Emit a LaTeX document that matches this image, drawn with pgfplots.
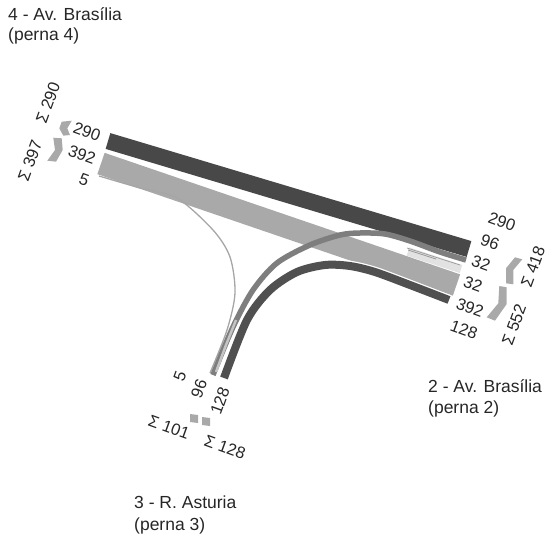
\documentclass[border=0pt]{standalone}
\usepackage{pgfplots}
\pgfplotsset{compat=1.18}
\usepackage{fontspec}
\setmainfont{Liberation Sans}
\definecolor{bdark}{HTML}{484848}
\definecolor{bmid}{HTML}{A9A9A9}
\definecolor{bgray}{HTML}{7E7E7E}
\definecolor{bdk}{HTML}{505050}
\definecolor{bpale}{HTML}{E2E2E2}
\definecolor{txt}{HTML}{262626}
\tikzset{
    lab/.style={font=\fontsize{16.5}{18}\selectfont, text=txt, inner sep=0pt},
    head/.style={font=\fontsize{17.5}{20}\selectfont, text=txt, inner sep=0pt, anchor=base west},
    band/.style={no markers, line cap=butt, line join=round},
    glyph/.style={draw=none, fill=#1, no markers},
}
\begin{document}
\begin{tikzpicture}
\useasboundingbox (0,0) rectangle (550pt,538pt);
\begin{axis}[
    at={(0,0)}, anchor=south west,
    scale only axis, width=550pt, height=538pt,
    xmin=0, xmax=550, ymin=0, ymax=538, y dir=reverse,
    hide axis, clip=false,
]

% leg 4 to leg 2
\addplot[band, bmid, line width=22.5pt] coordinates {(101,163.5) (456.5,285)};
\addplot[band, bdark, line width=16.5pt] coordinates {(108,141) (469,249)};

% right turn 4 to 3 (5)
\addplot[band, gray!70, line width=1.3pt, smooth] coordinates {(99,176) (140,188) (177,198) (213,230) (230,257) (235,293) (227,330) (210,373)};

% leg 2 to 3
\addplot[band, bgray, line width=5.5pt, smooth] coordinates {(466,260) (440,252) (410,241) (385,234) (360,233) (340,235) (310,245) (277,263) (253,290) (233,327) (213,375)};
\addplot[band, white, line width=10.5pt, smooth] coordinates {(449,300) (410,285) (375,272) (350,266) (325,265) (297,272) (270,290) (247,320) (224,378)};
\addplot[band, bdk, line width=8pt, smooth] coordinates {(449,300) (410,285) (375,272) (350,266) (325,265) (297,272) (270,290) (247,320) (224,378)};

% pale stretch beside the 96 band near leg 3
\addplot[band, bpale!70!gray, line width=2.5pt] coordinates {(236,320) (226,345) (216,372)};

% U-turn on leg 2 (32)
\addplot[band, bpale, line width=8.5pt] coordinates {(408,251.5) (461,269)};
\addplot[band, gray!80, line width=0.8pt] coordinates {(408,250) (436,259)};
\addplot[band, gray!80, line width=0.7pt] coordinates {(407,248) (460,265)};

% small bent arrows
\addplot[glyph=bmid] coordinates {(61.7,121.7) (71.7,120.7) (67.3,128.3) (70,135) (63.3,135.7) (59.3,128.3)} --cycle;
\addplot[glyph=bmid] coordinates {(53.3,137.7) (61.7,138.3) (62.7,150) (56,161.7) (47.3,160.7) (55,150)} --cycle;
\addplot[glyph=bmid] coordinates {(515,257.3) (522.3,259.3) (513.3,270) (513.3,284.3) (506,283.3) (506,268.3)} --cycle;
\addplot[glyph=bmid] coordinates {(499.3,286) (506.7,287.3) (506.7,304) (495,320.7) (486.7,317.3) (498.3,303.3)} --cycle;
\addplot[glyph=bmid] coordinates {(190,414) (198,415) (198,423) (190,422)} --cycle;
\addplot[glyph=bmid] coordinates {(202,417) (210,418) (210,426) (202,425)} --cycle;

% leg names
\node[head] at (axis cs:8,20) {4 - Av. Brasília};
\node[head] at (axis cs:8,41) {(perna 4)};
\node[head] at (axis cs:428,392) {2 - Av. Brasília};
\node[head] at (axis cs:428,413) {(perna 2)};
\node[head] at (axis cs:134,508) {3 - R. Asturia};
\node[head] at (axis cs:134,530) {(perna 3)};

% leg 4 labels
\node[lab, rotate=-20] at (axis cs:87,132) {290};
\node[lab, rotate=-20] at (axis cs:82,155) {392};
\node[lab, rotate=-20] at (axis cs:84,180) {5};
\node[lab, rotate=70] at (axis cs:48,103) {Σ 290};
\node[lab, rotate=70] at (axis cs:30,161) {Σ 397};

% leg 2 labels
\node[lab, rotate=-20] at (axis cs:502,222) {290};
\node[lab, rotate=-20] at (axis cs:490,242) {96};
\node[lab, rotate=-20] at (axis cs:481,263) {32};
\node[lab, rotate=-20] at (axis cs:473,284) {32};
\node[lab, rotate=-20] at (axis cs:470,308) {392};
\node[lab, rotate=-20] at (axis cs:464,330) {128};
\node[lab, rotate=70] at (axis cs:533,267) {Σ 418};
\node[lab, rotate=70] at (axis cs:514,325) {Σ 552};

% leg 3 labels
\node[lab, rotate=70] at (axis cs:180,376) {5};
\node[lab, rotate=70] at (axis cs:199,389) {96};
\node[lab, rotate=70] at (axis cs:220,401) {128};
\node[lab, rotate=-20] at (axis cs:169,427) {Σ 101};
\node[lab, rotate=-20] at (axis cs:225,447) {Σ 128};
\end{axis}
\end{tikzpicture}
\end{document}
